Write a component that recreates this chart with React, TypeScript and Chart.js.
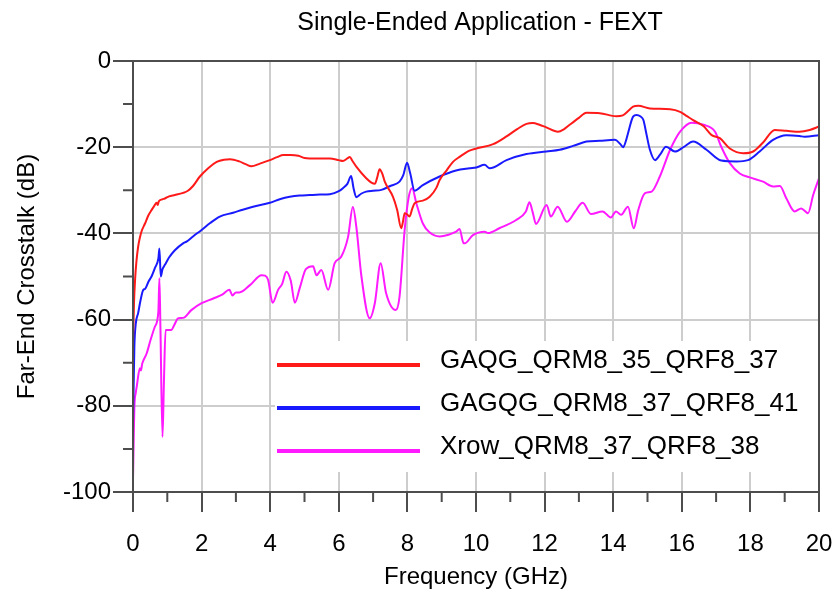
import React, { useEffect, useRef } from 'react';
import { Chart, registerables } from 'chart.js';

Chart.register(...registerables);

const FONT = '"Liberation Sans", Arial, Helvetica, sans-serif';

const chartTitle = 'Single-Ended Application - FEXT';
const xAxisTitle = 'Frequency (GHz)';
const yAxisTitle = 'Far-End Crosstalk (dB)';

const seriesNames = ['GAQG_QRM8_35_QRF8_37', 'GAGQG_QRM8_37_QRF8_41', 'Xrow_QRM8_37_QRF8_38'];
const seriesColors = ['#ff1a1a', '#1a1aff', '#ff1aff'];

const xTicksMajor = [0, 2, 4, 6, 8, 10, 12, 14, 16, 18, 20];
const xTicksMinor = [1, 3, 5, 7, 9, 11, 13, 15, 17, 19];
const yTicksMajor = [-100, -80, -60, -40, -20, 0];
const yTicksMinor = [-90, -70, -50, -30, -10];

const redFreq = [0, 0.03, 0.06, 0.1, 0.15, 0.2, 0.25, 0.35, 0.45, 0.54, 0.62, 0.69, 0.72, 0.75, 0.85, 0.93, 1.05, 1.22, 1.46, 1.6, 1.75, 1.95, 2.2, 2.44, 2.65, 2.83, 3.1, 3.3, 3.45, 3.7, 3.99, 4.2, 4.38, 4.6, 4.82, 5.0, 5.15, 5.45, 5.74, 6.0, 6.12, 6.25, 6.32, 6.4, 6.51, 6.8, 6.95, 7.05, 7.12, 7.19, 7.27, 7.34, 7.58, 7.7, 7.82, 7.87, 7.92, 7.98, 8.06, 8.14, 8.21, 8.45, 8.65, 8.84, 8.94, 9.15, 9.33, 9.53, 9.81, 10.01, 10.5, 10.89, 11.2, 11.47, 11.66, 11.85, 12.05, 12.39, 12.55, 12.73, 13.0, 13.22, 13.61, 14.09, 14.28, 14.45, 14.58, 14.73, 15.07, 15.66, 15.95, 16.15, 16.33, 16.63, 16.87, 17.11, 17.4, 17.79, 18.08, 18.37, 18.71, 19.05, 19.43, 19.73, 20];
const redDb = [-65, -56, -50.8, -46.5, -43.1, -41, -39.5, -37.7, -35.8, -34.6, -33.6, -32.9, -33.4, -32.6, -32.1, -31.9, -31.4, -31.1, -30.6, -30.1, -29.0, -26.8, -24.8, -23.4, -22.9, -22.8, -23.3, -24.0, -24.4, -23.8, -23.0, -22.3, -21.8, -21.8, -22.0, -22.5, -22.6, -22.6, -22.6, -23.0, -23.2, -22.6, -22.3, -23.2, -24.5, -27.2, -28.2, -28.5, -27.0, -25.1, -26.2, -28.0, -31.5, -34.5, -38.8, -37.3, -35.3, -35.5, -36.1, -34.3, -33.0, -32.4, -31.5, -29.5, -27.6, -25.3, -23.4, -22.2, -20.8, -20.3, -19.3, -17.5, -15.8, -14.6, -14.4, -14.8, -15.4, -16.4, -15.9, -14.8, -13.2, -12.0, -12.1, -12.8, -12.6, -11.5, -10.6, -10.4, -11.0, -11.2, -11.8, -12.8, -13.7, -15.1, -17.2, -17.9, -20.3, -21.4, -21.0, -18.9, -16.0, -16.2, -16.4, -16.0, -15.2];

const blueFreq = [0, 0.02, 0.04, 0.08, 0.15, 0.22, 0.3, 0.35, 0.45, 0.54, 0.64, 0.74, 0.77, 0.81, 0.86, 0.93, 1.05, 1.22, 1.46, 1.56, 1.75, 2.0, 2.25, 2.53, 2.92, 3.2, 3.5, 3.99, 4.3, 4.57, 4.86, 5.15, 5.45, 5.74, 6.0, 6.12, 6.25, 6.36, 6.43, 6.51, 6.65, 6.8, 7.0, 7.24, 7.5, 7.77, 7.88, 7.99, 8.08, 8.21, 8.45, 8.94, 9.42, 9.81, 10.01, 10.25, 10.4, 10.89, 11.47, 12.05, 12.44, 12.83, 13.22, 13.61, 14.05, 14.2, 14.29, 14.36, 14.43, 14.58, 14.68, 14.8, 14.88, 14.97, 15.07, 15.22, 15.36, 15.54, 15.8, 16.05, 16.33, 16.72, 17.15, 17.59, 17.93, 18.27, 18.66, 19.05, 19.43, 19.58, 20];
const blueDb = [-84, -75, -66.3, -61, -58.5, -55.5, -53.1, -52.9, -51.2, -50, -48, -45.8, -43.5, -50, -48.3, -47.3, -45.6, -43.9, -42.3, -41.9, -40.7, -39.2, -37.6, -36.1, -35.2, -34.5, -33.8, -32.9, -32.0, -31.5, -31.2, -31.1, -31.0, -30.9, -30.2, -29.5, -28.5, -26.7, -29.5, -31.6, -30.8, -30.3, -30.1, -29.9, -29.0, -28.0, -26.5, -23.6, -26, -30.1, -28.8, -26.8, -25.4, -24.9, -24.7, -24.1, -24.9, -23.0, -21.6, -21.0, -20.6, -19.7, -18.7, -18.5, -18.3, -19.2, -20.0, -18.8, -16.8, -12.9, -12.5, -12.9, -13.7, -17, -20.6, -23.0, -21.8, -19.9, -21.0, -20.0, -18.7, -20.6, -23.1, -23.3, -23.0, -21.0, -18.3, -17.2, -17.4, -17.6, -17.2];

const magentaFreq = [0, 0.02, 0.04, 0.08, 0.11, 0.2, 0.23, 0.27, 0.4, 0.52, 0.64, 0.74, 0.77, 0.8, 0.86, 0.9, 0.95, 1.12, 1.2, 1.32, 1.46, 1.7, 2.0, 2.34, 2.6, 2.81, 2.9, 3.0, 3.1, 3.41, 3.75, 3.85, 3.94, 4.07, 4.23, 4.35, 4.47, 4.6, 4.72, 4.86, 5.04, 5.25, 5.35, 5.49, 5.69, 5.88, 6.07, 6.27, 6.41, 6.51, 6.66, 6.9, 7.05, 7.22, 7.38, 7.66, 7.77, 7.92, 8.04, 8.14, 8.26, 8.45, 8.65, 8.94, 9.2, 9.42, 9.52, 9.64, 9.67, 9.91, 10.25, 10.35, 10.68, 11.17, 11.45, 11.56, 11.65, 11.75, 12.06, 12.18, 12.38, 12.65, 12.9, 13.11, 13.35, 13.69, 13.93, 14.08, 14.23, 14.43, 14.6, 14.73, 14.92, 15.12, 15.36, 15.66, 15.95, 16.29, 16.63, 16.97, 17.15, 17.4, 17.69, 17.98, 18.37, 18.66, 18.86, 19.05, 19.29, 19.48, 19.68, 19.83, 20];
const magentaDb = [-97, -88, -80.2, -77, -75.5, -71.3, -71.8, -70.2, -67.8, -64.5, -61.6, -58.1, -50.4, -62, -87.2, -75, -62.4, -62.4, -61.3, -59.7, -59.6, -57.8, -56.2, -55.1, -54.2, -53.1, -54.4, -53.7, -53.7, -52.0, -49.7, -49.8, -50.8, -56.1, -53.1, -51.7, -48.9, -51.0, -56.1, -52.7, -48.3, -47.6, -49.7, -48.5, -53.1, -46.9, -45.4, -40.8, -33.9, -38.4, -50.0, -59.7, -56.2, -46.9, -53.9, -57.8, -54.7, -39.2, -31.5, -29.5, -33.0, -37.7, -39.8, -40.7, -40.3, -39.6, -39.0, -42.3, -42.3, -40.4, -39.6, -39.9, -38.8, -36.9, -35, -32.8, -35, -37.8, -33.4, -36.1, -33.8, -37.3, -34.8, -32.9, -35.5, -34.9, -36.3, -34.9, -35.7, -33.8, -38.8, -34.6, -30.7, -30.3, -26.8, -20.6, -16.4, -14.3, -14.8, -16.4, -19.9, -23.7, -26.1, -27.0, -28.0, -29.1, -29.0, -31.9, -34.9, -34.2, -35.3, -31.1, -27.2];

const toPoints = (xs: number[], ys: number[]) => xs.map((x, i) => ({ x, y: ys[i] }));

const AXIS_COLOR = '#4d4d4d';
const GRID_COLOR = '#cdcdcd';

const overlayPlugin = {
  id: 'overlay',
  afterDatasetsDraw(chart: any) {
    const { ctx, chartArea: a, scales } = chart;
    const xs = scales.x;
    const ys = scales.y;
    ctx.save();
    // legend box
    const lx = a.left + 142;
    const ly = a.top + 280;
    ctx.fillStyle = '#ffffff';
    ctx.fillRect(lx, ly, a.right - lx, 131);
    ctx.font = `26px ${FONT}`;
    ctx.textAlign = 'left';
    ctx.textBaseline = 'middle';
    chart.data.datasets.forEach((ds: any, i: number) => {
      const yy = ly + 24 + i * 43;
      ctx.strokeStyle = ds.borderColor;
      ctx.lineWidth = 4;
      ctx.beginPath();
      ctx.moveTo(lx + 2, yy);
      ctx.lineTo(lx + 145, yy);
      ctx.stroke();
      ctx.fillStyle = '#000';
      ctx.fillText(ds.label, lx + 165, yy - 4);
    });
    // minor ticks
    ctx.strokeStyle = AXIS_COLOR;
    ctx.lineWidth = 2;
    ctx.beginPath();
    xTicksMinor.forEach((v) => {
      const px = xs.getPixelForValue(v);
      ctx.moveTo(px, a.bottom);
      ctx.lineTo(px, a.bottom + 10);
    });
    yTicksMinor.forEach((v) => {
      const py = ys.getPixelForValue(v);
      ctx.moveTo(a.left - 10, py);
      ctx.lineTo(a.left, py);
    });
    ctx.stroke();
    // frame
    ctx.strokeRect(a.left, a.top, a.right - a.left, a.bottom - a.top);
    // title
    ctx.fillStyle = '#000';
    ctx.font = `25px ${FONT}`;
    ctx.textAlign = 'center';
    ctx.textBaseline = 'middle';
    ctx.fillText(chartTitle, (a.left + a.right) / 2 + 4, 23);
    ctx.restore();
  },
};

export default function App() {
  const ref = useRef<HTMLCanvasElement | null>(null);
  useEffect(() => {
    if (!ref.current) return;
    const makeDs = (i: number, xs: number[], ys: number[]) => ({
      label: seriesNames[i],
      data: toPoints(xs, ys),
      borderColor: seriesColors[i],
      backgroundColor: seriesColors[i],
      borderWidth: 2,
      pointRadius: 0,
      cubicInterpolationMode: 'monotone',
      fill: false,
    });
    const chart = new Chart(ref.current, {
      type: 'line',
      data: {
        datasets: [
          makeDs(0, redFreq, redDb),
          makeDs(1, blueFreq, blueDb),
          makeDs(2, magentaFreq, magentaDb),
        ],
      },
      options: {
        animation: false,
        responsive: false,
        layout: { padding: { top: 61, right: 19, bottom: 0, left: 0 } },
        plugins: { legend: { display: false }, tooltip: { enabled: false }, title: { display: false } },
        scales: {
          x: {
            type: 'linear',
            min: 0,
            max: 20,
            afterFit: (s: any) => { s.height = 100; s.paddingLeft = 0; s.paddingRight = 0; },
            afterBuildTicks: (s: any) => { s.ticks = xTicksMajor.map((v) => ({ value: v })); },
            ticks: { color: '#000', font: { family: FONT, size: 24 }, padding: 18, maxRotation: 0, autoSkip: false },
            grid: {
              color: (c: any) => (c.tick && (c.tick.value === 0 || c.tick.value === 20) ? 'rgba(0,0,0,0)' : GRID_COLOR),
              lineWidth: 2,
              tickColor: AXIS_COLOR,
              tickLength: 20,
            },
            border: { color: AXIS_COLOR, width: 2 },
            title: { display: true, text: xAxisTitle, color: '#000', font: { family: FONT, size: 24 }, padding: { top: 0, bottom: 0 } },
          },
          y: {
            type: 'linear',
            min: -100,
            max: 0,
            afterFit: (s: any) => { s.width = 133; },
            afterBuildTicks: (s: any) => { s.ticks = yTicksMajor.map((v) => ({ value: v })); },
            ticks: { color: '#000', font: { family: FONT, size: 24 }, padding: 2, autoSkip: false },
            grid: {
              color: (c: any) => (c.tick && (c.tick.value === 0 || c.tick.value === -100) ? 'rgba(0,0,0,0)' : GRID_COLOR),
              lineWidth: 2,
              tickColor: AXIS_COLOR,
              tickLength: 20,
            },
            border: { color: AXIS_COLOR, width: 2 },
            title: { display: true, text: yAxisTitle, color: '#000', font: { family: FONT, size: 24 }, padding: { top: 13, bottom: 0 } },
          },
        },
      },
      plugins: [overlayPlugin],
    });
    return () => chart.destroy();
  }, []);
  return (
    <div style={{ position: 'absolute', left: 0, top: 0, width: 838, height: 592, background: '#fff' }}>
      <canvas ref={ref} width={838} height={592} />
    </div>
  );
}
